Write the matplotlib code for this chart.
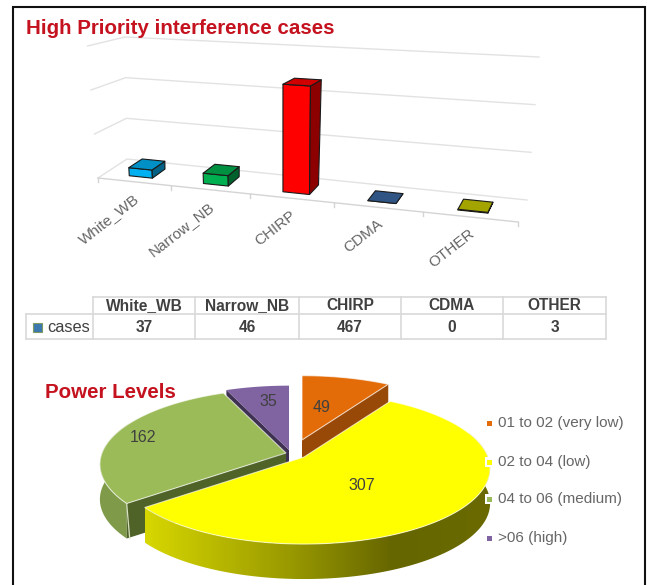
import numpy as np
import matplotlib
matplotlib.use("Agg")
import matplotlib.pyplot as plt
from matplotlib.patches import Polygon, Rectangle
from matplotlib.colors import to_rgb

plt.rcParams['font.family'] = ['Liberation Sans', 'DejaVu Sans']

# Interference cases per category
categories = ["White_WB", "Narrow_NB", "CHIRP", "CDMA", "OTHER"]
cases = [37, 46, 467, 0, 3]
grid_levels = [0, 200, 400, 600]
bar_colors = ["#00B0F0", "#00B050", "#FF0000", "#3A66A0", "#C8C800"]

# Power level slices
power_labels = ["01 to 02 (very low)", "02 to 04 (low)", "04 to 06 (medium)", ">06 (high)"]
power_counts = [49, 307, 162, 35]
power_colors = ["#E36C09", "#FFFF00", "#9BBB59", "#8064A2"]

fig = plt.figure(figsize=(6.47, 5.85), dpi=100)
ax = fig.add_axes([0, 0, 1, 1])
ax.set_xlim(0, 647)
ax.set_ylim(585, 0)
ax.axis("off")

# Outer frame, open along the bottom edge
ax.plot([13, 13, 645, 645], [585, 7, 7, 585], color="#111111", lw=1.5, solid_joinstyle="miter")

TITLE_RED = "#C5121F"
ax.text(26, 29, "High Priority interference cases", color=TITLE_RED,
        fontsize=14.8, fontweight="bold", va="center", ha="left")

# ---- Perspective column chart ----
# Floor corners: front-left, front-right, back-right, back-left
floor_xy = np.array([[98, 178], [518, 222], [527, 200], [127, 159]], float)
rise_600 = np.array([[-10.5, -132], [11, -152], [12, -143], [-2, -122]], float)


def blend(corners, s, t):
    return ((1 - s) * (1 - t) * corners[0] + s * (1 - t) * corners[1]
            + s * t * corners[2] + (1 - s) * t * corners[3])


def project(u, v, h=0.0):
    # Categories crowd toward the far end of the floor
    x = u / 5.0
    s = 0.84 * x + 0.16 * x * x
    return blend(floor_xy, s, v) + blend(rise_600, s, v) * h / 600.0


GRID = "#E2E2E2"
for level in grid_levels:
    pts = np.array([project(0, 0, level), project(0, 1, level), project(5, 1, level)])
    ax.plot(pts[:, 0], pts[:, 1], color=GRID, lw=1.0, zorder=1)
front = np.array([project(0, 0), project(5, 0)])
ax.plot(front[:, 0], front[:, 1], color="#D4D4D4", lw=1.0, zorder=1)
for i in range(len(categories) + 1):
    x, y = project(i, 0)
    ax.plot([x, x], [y, y + 4], color="#D4D4D4", lw=1.0, zorder=1)


def shade(color, f):
    return tuple(c * f for c in to_rgb(color))


BAR_W, V0, V1 = 0.32, 0.25, 0.72
for i, (name, val, col) in enumerate(zip(categories, cases, bar_colors)):
    u0, u1 = i + 0.5 - BAR_W / 2, i + 0.5 + BAR_W / 2
    fl, fr = project(u0, V0), project(u1, V0)
    br = project(u1, V1)
    tfl, tfr = project(u0, V0, val), project(u1, V0, val)
    tbl, tbr = project(u0, V1, val), project(u1, V1, val)
    edge = dict(edgecolor="#1A1A1A", linewidth=0.8, joinstyle="round", zorder=3)
    ax.add_patch(Polygon([fl, fr, tfr, tfl], facecolor=col, **edge))
    ax.add_patch(Polygon([fr, br, tbr, tfr], facecolor=shade(col, 0.55), **edge))
    ax.add_patch(Polygon([tfl, tfr, tbr, tbl], facecolor=shade(col, 0.82), **edge))
    bx, by = project(i + 0.5, 0)
    ax.text(bx + 3, by + 15, name, rotation=38, rotation_mode="anchor", ha="right", va="center",
            fontsize=11, color="#666666", zorder=4)

# ---- Data table below the columns ----
col_x = [93, 195, 299, 401, 503, 606]
TABLE_LINE = "#D9D9D9"
TXT = "#404040"
ax.plot([93, 606], [297, 297], color=TABLE_LINE, lw=1.2)
ax.plot([26, 606], [314, 314], color=TABLE_LINE, lw=1.2)
ax.plot([26, 606], [339, 339], color=TABLE_LINE, lw=1.2)
ax.plot([26, 26], [314, 339], color=TABLE_LINE, lw=1.2)
for x in col_x:
    ax.plot([x, x], [297, 339], color=TABLE_LINE, lw=1.2)
for i, (name, val) in enumerate(zip(categories, cases)):
    cx = (col_x[i] + col_x[i + 1]) / 2
    ax.text(cx, 306, name, ha="center", va="center", fontsize=11.2, fontweight="bold", color=TXT)
    ax.text(cx, 327, str(val), ha="center", va="center", fontsize=11.2, fontweight="bold", color=TXT)
ax.add_patch(Rectangle((33, 323), 9, 9, facecolor="#3B78B0", edgecolor="#7F9A60", lw=0.8))
ax.text(47, 327, "cases", ha="left", va="center", fontsize=11.8, color=TXT)

# ---- Power level pie, tilted and extruded ----
RX, RY, K, DEPTH = 184.0, 74.0, 0.15, 35.0
ax.text(45, 393, "Power Levels", color=TITLE_RED, fontsize=14.8, fontweight="bold",
        va="center", ha="left", zorder=8)


def rim(center, theta):
    t = np.radians(theta)
    w = 1 + K * np.cos(t)
    return np.column_stack([center[0] + RX * np.sin(t) / w, center[1] - RY * np.cos(t) / w])


def top_face(center, start, end):
    arc = rim(center, np.linspace(start, end, 120))
    return np.vstack([[center], arc])


def down(pts):
    return np.asarray(pts, float) + [0, DEPTH]


def cut_face(center, theta):
    edge = rim(center, np.array([theta]))[0]
    return [center, edge, edge + [0, DEPTH], np.array(center) + [0, DEPTH]]


edges = np.concatenate([[0], np.cumsum(power_counts)]) * 360.0 / sum(power_counts)
orange = edges[0], edges[1]
yellow = edges[1], edges[2]
green = edges[2], edges[3]
purple = edges[3], edges[4]
c_orange, c_yellow, c_green, c_purple = (302, 440), (304, 457), (286, 453), (289, 450)
RIM_EDGE = dict(edgecolor=(1, 1, 1, 0.65), linewidth=0.8)

# Purple slice with its thin dark cut face
ax.add_patch(Polygon(cut_face(c_purple, purple[0]), facecolor="#3F3151", zorder=5))
ax.add_patch(Polygon(top_face(c_purple, *purple), facecolor=power_colors[3], zorder=5.2))

# Green slice
arc = rim(c_green, np.linspace(green[0], 295, 60))
ax.add_patch(Polygon(np.vstack([arc, down(arc)[::-1]]), facecolor="#7F9B4A", zorder=5.3))
ax.add_patch(Polygon(cut_face(c_green, green[0]), facecolor="#4F6228", zorder=5.4))
corner = rim(c_green, np.array([green[0]]))[0]
ax.plot([corner[0], corner[0] + 3], [corner[1], corner[1] + DEPTH], color="#D8E2C0", lw=0.9, zorder=5.5)
ax.add_patch(Polygon(top_face(c_green, *green), facecolor=power_colors[2], zorder=5.6, **RIM_EDGE))

# Orange slice
ax.add_patch(Polygon(cut_face(c_orange, orange[1]), facecolor="#984807", zorder=5.7))
ax.add_patch(Polygon(top_face(c_orange, *orange), facecolor=power_colors[0], zorder=5.8, **RIM_EDGE))

# Yellow slice: outer wall with a smooth left-to-right shade, then the top
stops_x = [143, 289, 392, 490]
stops_c = np.array([to_rgb(c) for c in ["#D8D800", "#999900", "#666600", "#6A6A00"]])
wall = rim(c_yellow, np.linspace(70, yellow[1], 220))
xs = np.linspace(wall[:, 0].min(), wall[:, 0].max(), 400)
ramp = np.stack([np.interp(xs, stops_x, stops_c[:, j]) for j in range(3)], axis=-1)[None, :, :]
wall_poly = Polygon(np.vstack([wall, down(wall)[::-1]]), facecolor="none", edgecolor="none", zorder=6)
ax.add_patch(wall_poly)
img = ax.imshow(ramp, extent=(xs[0], xs[-1], wall[:, 1].max() + DEPTH, wall[:, 1].min()),
                aspect="auto", zorder=6, interpolation="bilinear")
img.set_clip_path(wall_poly)
ax.set_xlim(0, 647)
ax.set_ylim(585, 0)
ax.add_patch(Polygon(top_face(c_yellow, *yellow), facecolor=power_colors[1], zorder=6.2, **RIM_EDGE))

# Slice values
label_xy = [(322, 407), (362, 486), (143, 437), (268, 402)]
for (lx, ly), n in zip(label_xy, power_counts):
    ax.text(lx, ly, str(n), ha="center", va="center", fontsize=11.5, color="#404040", zorder=7)

# Legend keys sit on small white boxes that can overlap the pie
legend_y = [423, 462, 499, 538]
for y, name, col in zip(legend_y, power_labels, power_colors):
    ax.add_patch(Rectangle((485, y - 5), 8, 10, facecolor="white", edgecolor="none", zorder=7))
    ax.add_patch(Rectangle((486.5, y - 2.5), 5, 5, facecolor=col, edgecolor="none", zorder=7.1))
    ax.text(498, y, name, ha="left", va="center", fontsize=11, color="#666666", zorder=7.2)

fig.savefig("out.png", dpi=100, facecolor="white")
